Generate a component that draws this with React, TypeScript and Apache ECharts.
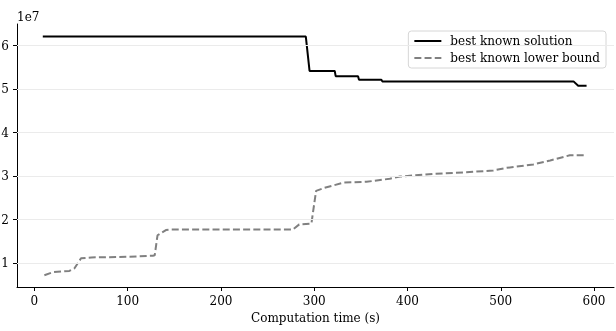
import React, { useEffect, useRef } from "react";
import * as echarts from "echarts";

// Best known solution (time in s, objective value)
const solTime = [9, 291, 295, 322, 323, 347, 348, 372, 373, 578, 583, 592];
const solValue = [62.1e6, 62.1e6, 54.2e6, 54.2e6, 53.0e6, 53.0e6, 52.2e6, 52.2e6, 51.8e6, 51.8e6, 50.8e6, 50.8e6];

// Best known lower bound
const lbTime = [10.7, 19.7, 37.5, 43, 50, 61, 102, 127, 129, 132, 141, 145, 277, 284, 297, 298.5, 302, 311, 331, 356, 381, 392, 427, 463, 492, 506, 535, 553, 574, 590];
const lbValue = [7.2e6, 7.9e6, 8.2e6, 8.8e6, 11.1e6, 11.3e6, 11.45e6, 11.7e6, 11.8e6, 16.4e6, 17.6e6, 17.7e6, 17.7e6, 18.9e6, 19.1e6, 21.4e6, 26.6e6, 27.3e6, 28.5e6, 28.7e6, 29.4e6, 29.9e6, 30.5e6, 30.9e6, 31.3e6, 31.9e6, 32.7e6, 33.6e6, 34.8e6, 34.8e6];

const xTicks = [0, 100, 200, 300, 400, 500, 600];
const yTicks = [1e7, 2e7, 3e7, 4e7, 5e7, 6e7];

const FONT = "DejaVu Serif";

export default function App() {
  const ref = useRef<HTMLDivElement>(null);
  useEffect(() => {
    if (!ref.current) return;
    const chart = echarts.init(ref.current, undefined, { renderer: "svg" });
    chart.setOption({
      animation: false,
      textStyle: { fontFamily: FONT, color: "#000" },
      grid: { left: 17, right: 2, top: 24, bottom: 44, containLabel: false, outerBoundsMode: "none" },
      legend: {
        data: ["best known solution", "best known lower bound"],
        orient: "vertical",
        right: 10,
        top: 31,
        backgroundColor: "#fff",
        borderColor: "#d6d6d6",
        borderWidth: 1,
        borderRadius: 3,
        padding: [4, 6, 4, 5],
        itemGap: 5,
        itemWidth: 27,
        itemHeight: 14,
        itemStyle: { opacity: 0 },
        textStyle: { fontFamily: FONT, fontSize: 12, color: "#000", padding: [0, 0, 0, 4] },
      },
      graphic: [
        { type: "text", left: 17, top: 11, style: { text: "1e7", font: `12px '${FONT}'`, fill: "#000" } },
      ],
      xAxis: {
        type: "value",
        min: -18.65,
        max: 621.4,
        name: "Computation time (s)",
        nameLocation: "middle",
        nameGap: 24,
        nameTextStyle: { fontFamily: FONT, fontSize: 12, color: "#000" },
        axisLine: { onZero: false, lineStyle: { color: "#000", width: 1 } },
        axisTick: { length: 4, customValues: xTicks, lineStyle: { color: "#000" } },
        axisLabel: { customValues: xTicks, fontFamily: FONT, fontSize: 12, color: "#000", margin: 8 },
        splitLine: { show: false },
      },
      yAxis: {
        type: "value",
        min: 0.45e7,
        max: 6.5e7,
        axisLine: { show: true, onZero: false, lineStyle: { color: "#000", width: 1 } },
        axisTick: { show: true, length: 4, customValues: yTicks, lineStyle: { color: "#000" } },
        axisLabel: {
          customValues: yTicks,
          fontFamily: FONT,
          fontSize: 12,
          color: "#000",
          margin: 8,
          formatter: (v: number) => String(Math.round(v / 1e7)),
        },
        splitLine: { show: false },
      },
      series: [
        {
          name: "grid",
          type: "line",
          data: [],
          z: 1,
          silent: true,
          markLine: {
            silent: true,
            symbol: "none",
            label: { show: false },
            lineStyle: { color: "#ebebeb", width: 1, type: "solid" },
            data: yTicks.map((v) => ({ yAxis: v })),
          },
        },
        {
          name: "best known solution",
          type: "line",
          z: 3,
          symbol: "none",
          data: solTime.map((t, i) => [t, solValue[i]]),
          lineStyle: { color: "#000", width: 2 },
          itemStyle: { color: "#000" },
        },
        {
          name: "best known lower bound",
          type: "line",
          z: 3,
          symbol: "none",
          data: lbTime.map((t, i) => [t, lbValue[i]]),
          lineStyle: { color: "#808080", width: 2, type: [7, 3.2] },
          itemStyle: { color: "#808080" },
        },
      ],
    });
    return () => chart.dispose();
  }, []);
  return (
    <div
      ref={ref}
      style={{ position: "fixed", left: 0, top: 0, width: 616, height: 331 }}
    />
  );
}
